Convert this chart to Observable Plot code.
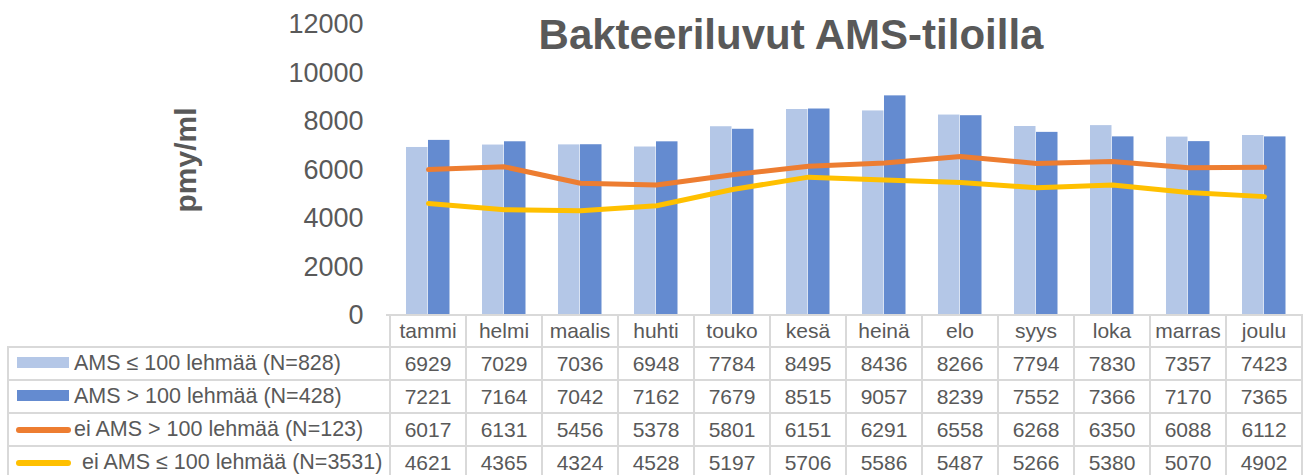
<!DOCTYPE html>
<html>
<head>
<meta charset="utf-8">
<script src="https://cdn.jsdelivr.net/npm/d3@7"></script>
<script src="https://cdn.jsdelivr.net/npm/@observablehq/plot@0.6"></script>
<style>
  html, body { margin: 0; padding: 0; background: #fff; }
  #chart { position: relative; width: 1312px; height: 475px; overflow: hidden; font-family: "Liberation Sans", Arial, sans-serif; color: #595959; }
  #chart svg { position: absolute; left: 0; top: 0; }
  .cell { position: absolute; display: flex; align-items: center; justify-content: center; font-size: 21px; white-space: nowrap; color: #595959; }
  .hl { position: absolute; height: 2px; background: #d9d9d9; }
  .vl { position: absolute; width: 2px; background: #d9d9d9; }
</style>
</head>
<body>
<div id="chart"></div>
<script>
const months = ["tammi","helmi","maalis","huhti","touko","kesä","heinä","elo","syys","loka","marras","joulu"];
const yTicks = [0, 2000, 4000, 6000, 8000, 10000, 12000];
const amsSmall = [6929,7029,7036,6948,7784,8495,8436,8266,7794,7830,7357,7423];
const amsLarge = [7221,7164,7042,7162,7679,8515,9057,8239,7552,7366,7170,7365];
const eiAmsLarge = [6017,6131,5456,5378,5801,6151,6291,6558,6268,6350,6088,6112];
const eiAmsSmall = [4621,4365,4324,4528,5197,5706,5586,5487,5266,5380,5070,4902];
const seriesNames = ["AMS ≤ 100 lehmää (N=828)", "AMS > 100 lehmää (N=428)", "ei AMS > 100 lehmää (N=123)", " ei AMS ≤ 100 lehmää (N=3531)"];
const title = "Bakteeriluvut AMS-tiloilla";
const yLabel = "pmy/ml";

const colors = ["#B4C7E7", "#648BD0", "#ED7D31", "#FFC000"];
const series = [amsSmall, amsLarge, eiAmsLarge, eiAmsSmall];

const W = 1312, H = 475;
const mL = 387, mR = 7, mT = 24, mB = 160;

const plot = Plot.plot({
  width: W, height: H,
  marginLeft: mL, marginRight: mR, marginTop: mT, marginBottom: mB,
  style: { color: "#595959", fontFamily: "Liberation Sans, Arial, sans-serif", background: "transparent" },
  x: { domain: months, padding: 0, axis: null },
  y: { domain: [0, 12000], axis: null },
  marks: [
    Plot.axisY({ ticks: yTicks, tickSize: 0, tickPadding: 24, fontSize: 27, fill: "#595959", tickFormat: d3.format("d"), label: null }),
    Plot.barY(amsSmall, { x: months, y: d => d, fill: colors[0], insetLeft: 16, insetRight: 38.5 }),
    Plot.barY(amsLarge, { x: months, y: d => d, fill: colors[1], insetLeft: 38, insetRight: 16.5 }),
    Plot.lineY(eiAmsLarge, { x: months, y: d => d, stroke: colors[2], strokeWidth: 5, strokeLinecap: "round", strokeLinejoin: "round" }),
    Plot.lineY(eiAmsSmall, { x: months, y: d => d, stroke: colors[3], strokeWidth: 5, strokeLinecap: "round", strokeLinejoin: "round" })
  ]
});

const chart = document.getElementById("chart");
chart.appendChild(plot);

function add(cls, styles, text) {
  const d = document.createElement("div");
  d.className = cls;
  Object.assign(d.style, styles);
  if (text != null) d.textContent = text;
  chart.appendChild(d);
  return d;
}

// Title
add("", { position: "absolute", left: "791px", top: "14px", transform: "translateX(-50%)", fontSize: "42px", lineHeight: "42px", fontWeight: "bold", whiteSpace: "nowrap", color: "#595959" }, title);
// Y label
add("", { position: "absolute", left: "186px", top: "160px", transform: "translate(-50%,-50%) rotate(-90deg)", fontSize: "30px", lineHeight: "30px", fontWeight: "bold", whiteSpace: "nowrap", color: "#595959" }, yLabel);

// Data table, columns aligned to the x band scale
const xs = plot.scale("x");
const bw = xs.bandwidth;
const colLeft = months.map(m => xs.apply(m));
const tableRight = colLeft[colLeft.length - 1] + bw;
const headerTop = H - mB;
const rowTops = [347, 380, 413, 446];
const rowH = 33;
const leftX = 8;

// grid lines
add("hl", { left: mL - 1 + "px", top: headerTop - 1 + "px", width: (tableRight - mL + 2) + "px" });
rowTops.forEach(t => add("hl", { left: leftX + "px", top: t - 1 + "px", width: (tableRight - leftX + 1) + "px" }));
add("vl", { left: leftX - 1 + "px", top: rowTops[0] - 1 + "px", height: (H - rowTops[0] + 1) + "px" });
colLeft.concat([tableRight]).forEach(x => add("vl", { left: x - 1 + "px", top: headerTop + "px", height: (H - headerTop) + "px" }));

// header
months.forEach((m, i) => add("cell", { left: colLeft[i] + "px", top: headerTop + "px", width: bw + "px", height: (rowTops[0] - headerTop) + "px" }, m));

// rows
series.forEach((vals, r) => {
  const top = rowTops[r];
  if (r < 2) {
    add("", { position: "absolute", left: "17px", top: (top + 10) + "px", width: "52px", height: "11px", background: colors[r] });
  } else {
    add("", { position: "absolute", left: "16px", top: (top + 14) + "px", width: "55px", height: "6px", borderRadius: "3px", background: colors[r] });
  }
  add("cell", { left: (r === 3 ? 76 : 74) + "px", top: top + "px", height: rowH + "px", justifyContent: "flex-start", whiteSpace: "pre", fontSize: "21.5px" }, seriesNames[r]);
  vals.forEach((v, i) => add("cell", { left: colLeft[i] + "px", top: top + "px", width: bw + "px", height: rowH + "px" }, String(v)));
});
</script>
</body>
</html>
